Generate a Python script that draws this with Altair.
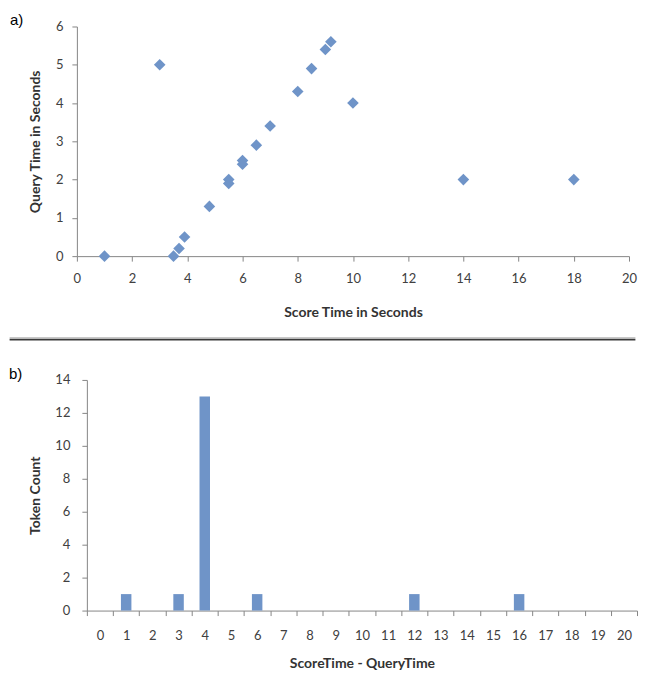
import altair as alt
import pandas as pd

# ---- data (panel a: scatter) ----
score_time = [1, 3, 3.5, 3.7, 3.9, 4.8, 5.5, 5.5, 6, 6, 6.5, 7, 8, 8.5, 9, 9.2, 10, 14, 18]
query_time = [0, 5, 0, 0.2, 0.5, 1.3, 2.0, 1.9, 2.5, 2.4, 2.9, 3.4, 4.3, 4.9, 5.4, 5.6, 4.0, 2.0, 2.0]

# ---- data (panel b: histogram) ----
diff_cats = list(range(0, 21))
token_counts = [0, 1, 0, 1, 13, 0, 1, 0, 0, 0, 0, 0, 1, 0, 0, 0, 1, 0, 0, 0, 0]

BLUE = "#6F94C8"
AXIS = "#868686"
LABEL = "#404040"
TITLE = "#333333"
FONT = "Lato"

df_sc = pd.DataFrame({"score": score_time, "query": query_time})
df_bar = pd.DataFrame({"diff": diff_cats, "count": token_counts})

W_A, H_A = 553, 230
W_B, H_B = 561, 231

points = alt.Chart(df_sc).mark_point(
    shape="diamond", filled=True, size=135, color=BLUE, opacity=1
).encode(
    x=alt.X("score:Q", scale=alt.Scale(domain=[0, 20], nice=False),
            axis=alt.Axis(values=list(range(0, 21, 2)), title="Score Time in Seconds",
                          labelFlush=False, labelPadding=11, titleY=56, titleBaseline="middle")),
    y=alt.Y("query:Q", scale=alt.Scale(domain=[0, 6], nice=False),
            axis=alt.Axis(values=list(range(0, 7)), title="Query Time in Seconds",
                          labelFlush=False, labelPadding=9, titleX=-41, titleBaseline="middle")),
)

label_a = alt.Chart(pd.DataFrame({"t": ["a)"]})).mark_text(
    align="left", baseline="middle", font="Liberation Sans", fontSize=15, color="#000000"
).encode(text="t:N", x=alt.value(-67), y=alt.value(-7))

sep_light = alt.Chart(pd.DataFrame({"k": [0]})).mark_rule(color="#c8c8c8", strokeWidth=1.5).encode(
    x=alt.value(-67.4), x2=alt.value(559.4), y=alt.value(311.8))
sep_dark = alt.Chart(pd.DataFrame({"k": [0]})).mark_rule(color="#3a3a3a", strokeWidth=1.6).encode(
    x=alt.value(-67.4), x2=alt.value(559.4), y=alt.value(313.6))

panel_a = alt.layer(points, label_a, sep_light, sep_dark).properties(width=W_A, height=H_A)

bars = alt.Chart(df_bar).mark_bar(color=BLUE, width=alt.RelativeBandSize(0.4)).encode(
    x=alt.X("diff:O", scale=alt.Scale(range=[10, 561], paddingInner=0, paddingOuter=0),
            axis=alt.Axis(tickBand="extent", labelAngle=0, title="ScoreTime - QueryTime",
                          labelPadding=14, titleY=53, titleBaseline="middle")),
    y=alt.Y("count:Q", scale=alt.Scale(domain=[0, 14], nice=False),
            axis=alt.Axis(values=list(range(0, 15, 2)), title="Token Count", offset=-10,
                          labelFlush=False, labelPadding=12, titleX=-51.5, titleBaseline="middle")),
)

label_b = alt.Chart(pd.DataFrame({"t": ["b)"]})).mark_text(
    align="left", baseline="middle", font="Liberation Sans", fontSize=15, color="#000000"
).encode(text="t:N", x=alt.value(-68), y=alt.value(-6))

panel_b = alt.layer(bars, label_b).properties(width=W_B, height=H_B)

chart = alt.vconcat(panel_a, panel_b, spacing=26).properties(
    padding={"left": 0, "top": 4, "right": 0, "bottom": 0}
).configure_axis(
    domainColor=AXIS, tickColor=AXIS, tickSize=5, grid=False,
    labelColor=LABEL, labelFont=FONT, labelFontSize=13,
    titleColor=TITLE, titleFont=FONT, titleFontSize=14, titleFontWeight="bold",
).configure_view(stroke=None)

chart.save("out.html", embed_options={"renderer": "svg", "actions": False})
